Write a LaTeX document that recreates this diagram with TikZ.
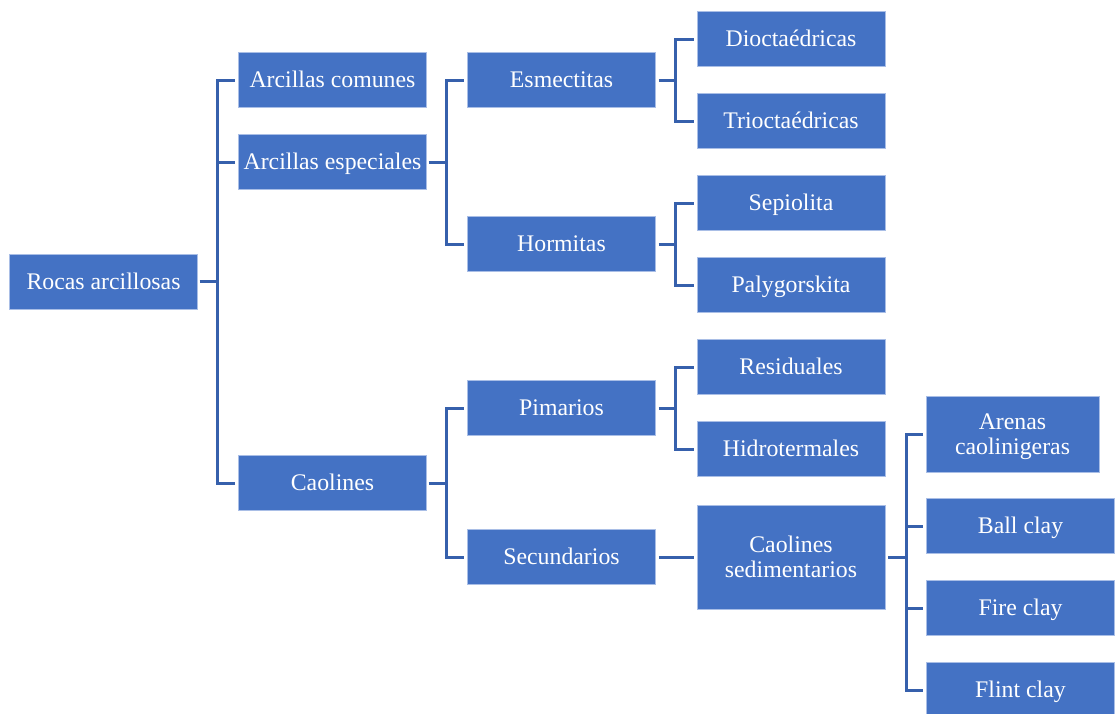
\documentclass[tikz,border=0pt]{standalone}
\usepackage{fontspec}
\newfontfamily\boxfont{Liberation Serif}
\definecolor{boxfill}{HTML}{4472C4}
\definecolor{boxedge}{HTML}{A9BEE6}
\definecolor{linkcol}{HTML}{3660AC}
\begin{document}
\begin{tikzpicture}[x=1pt,y=-1pt,
  box/.style={rectangle, fill=boxfill, draw=boxedge, line width=0.8pt,
    minimum width=188pt, minimum height=55pt, inner sep=2pt,
    text height=15.6pt, text depth=0pt,
    text=white, align=center, font=\boxfont\fontsize{23.8}{25}\selectfont},
  twoline/.style={text height=40.6pt, text depth=0pt},
  conn/.style={draw=linkcol, line width=3pt}]
\useasboundingbox (0,0) rectangle (1117,713);
% level 0
\node[box] (root) at (103.5,281.5) {Rocas arcillosas};
% level 1
\node[box] (comunes) at (332.5,80) {Arcillas comunes};
\node[box] (especiales) at (332.5,162) {Arcillas especiales};
\node[box] (caolines) at (332.5,483) {Caolines};
% level 2
\node[box] (esmectitas) at (561.5,80) {Esmectitas};
\node[box] (hormitas) at (561.5,244) {Hormitas};
\node[box] (primarios) at (561.5,408) {Pimarios};
\node[box] (secundarios) at (561.5,557) {Secundarios};
% level 3
\node[box] (dioct) at (791,39) {Dioctaédricas};
\node[box] (trioct) at (791,121) {Trioctaédricas};
\node[box] (sepiolita) at (791,203) {Sepiolita};
\node[box] (palygorskita) at (791,285) {Palygorskita};
\node[box] (residuales) at (791,367) {Residuales};
\node[box] (hidrotermales) at (791,449) {Hidrotermales};
\node[box, twoline, minimum height=104pt] (sedim) at (791,557) {Caolines\\sedimentarios};
% level 4
\node[box, twoline, minimum width=173pt, minimum height=76pt] (arenas) at (1012.5,434) {Arenas\\caolinigeras};
\node[box] (ball) at (1020.5,526) {Ball clay};
\node[box] (fire) at (1020.5,608) {Fire clay};
\node[box] (flint) at (1020.5,690) {Flint clay};
% connectors
\foreach \c in {comunes,especiales,caolines}
  \draw[conn] ([xshift=2pt]root.east) -- ++(18,0) |- ([xshift=-3pt]\c.west);
\foreach \c in {esmectitas,hormitas}
  \draw[conn] ([xshift=2pt]especiales.east) -- ++(18,0) |- ([xshift=-3pt]\c.west);
\foreach \c in {primarios,secundarios}
  \draw[conn] ([xshift=2pt]caolines.east) -- ++(18,0) |- ([xshift=-3pt]\c.west);
\foreach \c in {dioct,trioct}
  \draw[conn] ([xshift=3pt]esmectitas.east) -- ++(17,0) |- ([xshift=-3pt]\c.west);
\foreach \c in {sepiolita,palygorskita}
  \draw[conn] ([xshift=3pt]hormitas.east) -- ++(17,0) |- ([xshift=-3pt]\c.west);
\foreach \c in {residuales,hidrotermales}
  \draw[conn] ([xshift=3pt]primarios.east) -- ++(17,0) |- ([xshift=-3pt]\c.west);
\draw[conn] ([xshift=3pt]secundarios.east) -- ([xshift=-3pt]sedim.west);
\foreach \c in {arenas,ball,fire,flint}
  \draw[conn] ([xshift=3pt]sedim.east) -- ++(18,0) |- ([xshift=-3pt]\c.west);
\end{tikzpicture}
\end{document}
